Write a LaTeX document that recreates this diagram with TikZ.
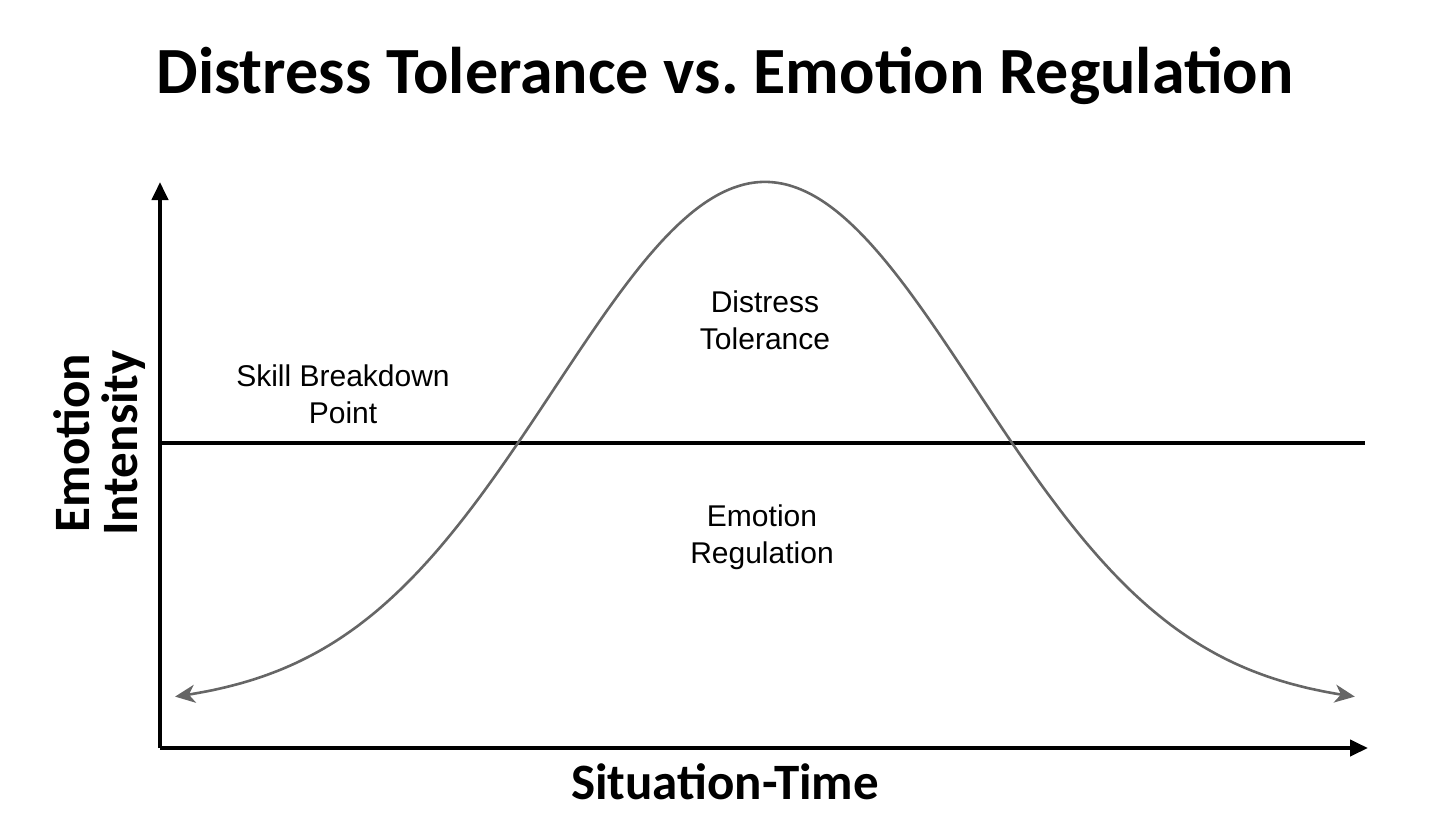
\documentclass[tikz,border=0pt]{standalone}
\usepackage{fontspec}
\setmainfont{Carlito}
\newfontfamily\helv{Liberation Sans}
\usetikzlibrary{arrows.meta}
\frenchspacing
\begin{document}
\begin{tikzpicture}[x=0.5pt,y=-0.5pt,
  axis/.style={line width=2pt,-{Triangle[length=9pt,width=8pt]}},
  lbl/.style={font=\helv\fontsize{15}{18.5}\selectfont,align=center},
  big/.style={font=\bfseries\fontsize{25.5}{24}\selectfont,align=center}]
\useasboundingbox (0,0) rectangle (1440,815);
\node[font=\bfseries\fontsize{33}{36}\selectfont] (title) at (725,76) {Distress Tolerance vs. Emotion Regulation};
\coordinate (o) at (160,748);
\coordinate (ytop) at (160,182);
\coordinate (xend) at (1368,748);
\draw[axis] (o) -- (ytop);
\draw[axis] (o) -- (xend);
\coordinate (la) at (160,443);
\coordinate (lb) at (1365,443);
\draw[line width=2pt] (la) -- (lb);
\draw[gray!80!black,line width=1.3pt,{Stealth[length=10pt,width=9pt,inset=3pt]}-{Stealth[length=10pt,width=9pt,inset=3pt]}]
  plot[domain=-2.8:2.8,samples=200,smooth] ({765+210.7*\x},{707-525*exp(-(\x*\x)/2)});
\node[lbl] (dt) at (765,320) {Distress\\Tolerance};
\node[lbl] (sb) at (343,394) {Skill Breakdown\\Point};
\node[lbl] (er) at (762,537) {Emotion\\Regulation};
\node[big,rotate=90] (yl) at (100,443) {Emotion\\Intensity};
\node[big] (xl) at (725,782) {Situation-Time};
\end{tikzpicture}
\end{document}
